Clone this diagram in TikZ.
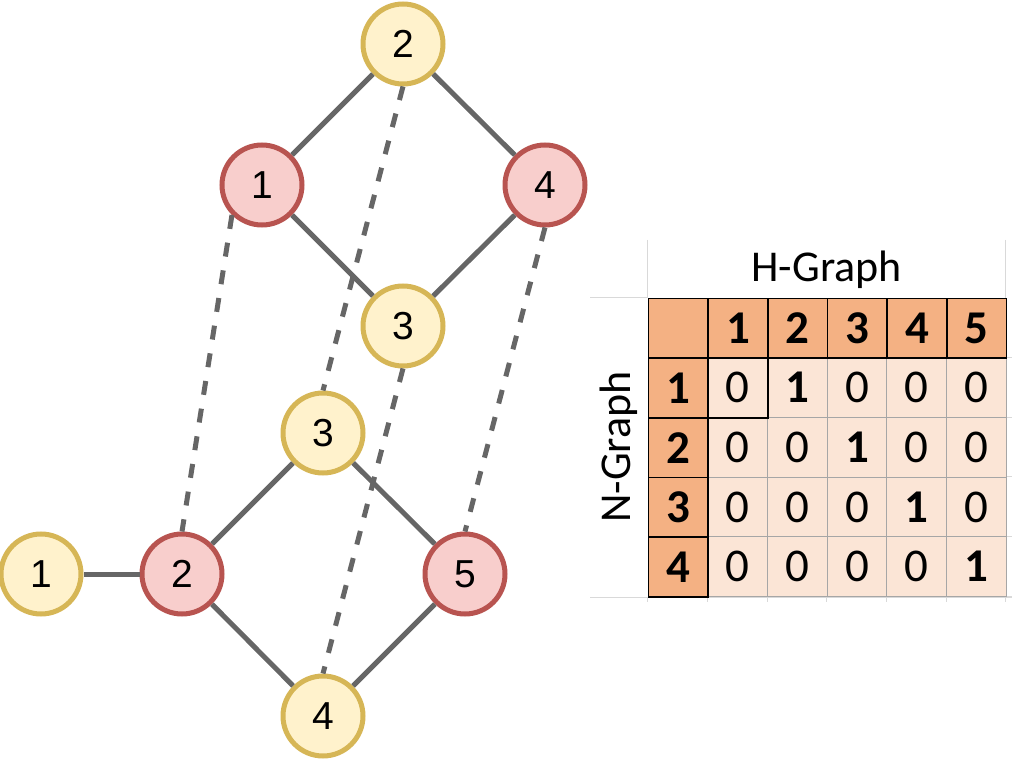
\documentclass[tikz,border=0pt]{standalone}
\usepackage{fontspec}
\setmainfont{Liberation Sans}
\newfontfamily\tablefont{Carlito}
\definecolor{redline}{HTML}{B85450}
\definecolor{redfill}{HTML}{F8CECC}
\definecolor{yelline}{HTML}{D6B656}
\definecolor{yelfill}{HTML}{FFF2CC}
\definecolor{edgegray}{HTML}{666666}
\definecolor{headfill}{HTML}{F4B183}
\definecolor{cellfill}{HTML}{FBE5D6}
\definecolor{gridgray}{HTML}{D9D9D9}
\begin{document}
\begin{tikzpicture}[x=1pt,y=-1pt,
  vtx/.style={circle, line width=5pt, minimum size=80pt, inner sep=0pt,
    font=\fontsize{39}{42}\selectfont},
  hub/.style={vtx, draw=redline, fill=redfill},
  leaf/.style={vtx, draw=yelline, fill=yelfill},
  edge/.style={draw=edgegray, line width=5pt},
  link/.style={edge, dash pattern=on 14pt off 14pt},
  cellbase/.style={rectangle, anchor=north west, inner sep=0pt,
    minimum width=59.67pt, minimum height=59.67pt,
    font=\tablefont\fontsize{47}{49}\selectfont},
  datacell/.style={cellbase, fill=cellfill, draw=gray!70, line width=1pt},
  headcell/.style={cellbase, fill=headfill, draw=black, line width=1.6pt,
    font=\tablefont\bfseries\fontsize{47}{49}\selectfont},
  gridline/.style={draw=gridgray, line width=1pt},
  title/.style={font=\tablefont\fontsize{44}{46}\selectfont}
]
\useasboundingbox (0,0) rectangle (1012,759);

% upper graph
\node[leaf] (h2) at (403,44)  {2};
\node[hub]  (h1) at (262,185) {1};
\node[hub]  (h4) at (545,185) {4};
\node[leaf] (h3) at (403,326) {3};

% lower graph
\node[leaf] (n3) at (323,433) {3};
\node[leaf] (n1) at (41,574)  {1};
\node[hub]  (n2) at (182,574) {2};
\node[hub]  (n5) at (465,574) {5};
\node[leaf] (n4) at (323,716) {4};

% solid edges
\draw[edge] (h2) -- (h1);
\draw[edge] (h2) -- (h4);
\draw[edge] (h1) -- (h3);
\draw[edge] (h4) -- (h3);
\draw[edge] (n1) -- (n2);
\draw[edge] (n2) -- (n3);
\draw[edge] (n3) -- (n5);
\draw[edge] (n2) -- (n4);
\draw[edge] (n4) -- (n5);

% mapping links between the graphs
\draw[link] (h1.-135) -- (n2.north);
\draw[link] (h2.south) -- (n3.north);
\draw[link] (h4.south) -- (n5.north);
\draw[link] (h3.south) -- (n4.north);

% spreadsheet gridlines around the table
\draw[gridline] (647.7,240) -- (647.7,297.7);
\draw[gridline] (1005.7,240) -- (1005.7,297.7);
\draw[gridline] (590,297.7) -- (647.7,297.7);
\draw[gridline] (590,597) -- (1012,597);
\foreach \r in {1,...,5}
  \draw[gridline] (1005.7,{297.7+\r*59.67}) -- (1012,{297.7+\r*59.67});
\foreach \c in {0,...,6}
  \draw[gridline] ({647.7+\c*59.67},597) -- ({647.7+\c*59.67},602);

% data cells
\foreach \r in {1,...,4}
  \foreach \c in {1,...,5}{
    \pgfmathtruncatemacro{\hit}{\c==\r+1 ? 1 : 0}
    \ifnum\hit=1
      \node[datacell, font=\tablefont\bfseries\fontsize{47}{49}\selectfont] (m-\r-\c)
        at ({647.7+\c*59.67},{297.7+\r*59.67}) {1};
    \else
      \node[datacell] (m-\r-\c) at ({647.7+\c*59.67},{297.7+\r*59.67}) {0};
    \fi
  }
\draw[black, line width=1.6pt] (m-1-1.north west) rectangle (m-1-1.south east);

% header cells
\node[headcell] (m-0-0) at (647.7,297.7) {};
\foreach \c in {1,...,5}
  \node[headcell] (m-0-\c) at ({647.7+\c*59.67},297.7) {\c};
\foreach \r in {1,...,4}
  \node[headcell] (m-\r-0) at (647.7,{297.7+\r*59.67}) {\r};

% axis titles
\node[title] (hgraph) at (826.7,270) {H-Graph};
\node[title, rotate=90] (ngraph) at (619,447) {N-Graph};
\end{tikzpicture}
\end{document}
